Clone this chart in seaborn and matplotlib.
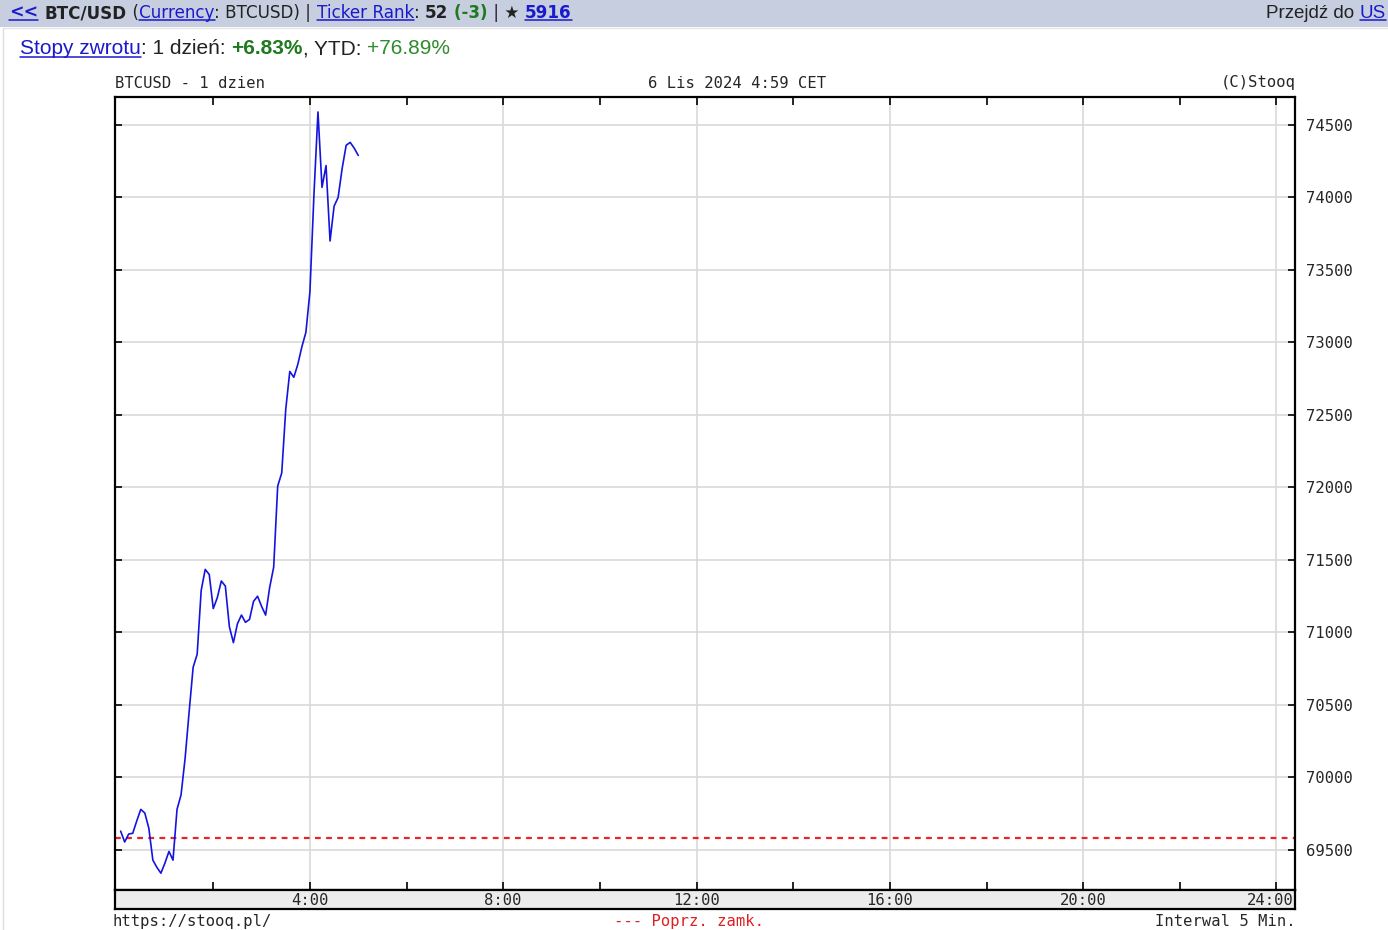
import numpy as np
import pandas as pd
import matplotlib.pyplot as plt
from matplotlib.lines import Line2D
from matplotlib.patches import Rectangle
import seaborn as sns

# BTCUSD intraday, 5 min bars (minutes after midnight)
minutes = np.arange(5, 301, 5)
prices = [69630, 69555, 69610, 69615, 69700, 69780, 69755, 69650, 69430, 69380,
          69340, 69410, 69490, 69430, 69780, 69880, 70130, 70450, 70760, 70850,
          71290, 71435, 71400, 71165, 71240, 71355, 71320, 71040, 70930, 71060,
          71120, 71070, 71090, 71215, 71250, 71180, 71120, 71310, 71450, 72010,
          72100, 72540, 72800, 72760, 72850, 72970, 73070, 73350, 74020, 74590,
          74070, 74220, 73700, 73940, 74000, 74200, 74360, 74380, 74340, 74290]
prev_close = 69580
y_ticks = [69500, 70000, 70500, 71000, 71500, 72000, 72500, 73000, 73500, 74000, 74500]
x_labels = ["4:00", "8:00", "12:00", "16:00", "20:00", "24:00"]
x_label_pos = [240, 480, 720, 960, 1200, 1440]

df = pd.DataFrame({"min": minutes, "price": prices})

sns.set_style("white")
W, H = 1388, 930
fig = plt.figure(figsize=(W / 100, H / 100), dpi=100)
mono = "DejaVu Sans Mono"

# page header bar
fig.add_artist(Rectangle((0, 1 - 27 / H), 1, 27 / H, transform=fig.transFigure,
                         facecolor="#c6cee0", edgecolor="none"))
fig.add_artist(Line2D([3 / W, 3 / W], [0, 1 - 28 / H], transform=fig.transFigure,
                      color="#dddddd", lw=1))
fig.add_artist(Line2D([3 / W, 1], [1 - 28.5 / H, 1 - 28.5 / H], transform=fig.transFigure,
                      color="#e4e4e4", lw=1))

renderer = fig.canvas.get_renderer()


def run(x, y, parts, size, family):
    for s, color, weight, ul in parts:
        t = fig.text(x / W, 1 - y / H, s, color=color, fontsize=size, fontweight=weight,
                     family=family, va="center", ha="left")
        bb = t.get_window_extent(renderer)
        if ul:
            fig.add_artist(Line2D([bb.x0 / W, bb.x1 / W], [(bb.y0 + 1.5) / H] * 2,
                                  transform=fig.transFigure, color=color, lw=1.1))
        x = bb.x1


link = "#1a1acc"
green = "#1e7a1e"
hdr = "DejaVu Sans"
run(9, 13, [("<<", link, "bold", True)], 12.5, hdr)
run(45, 13, [("BTC/USD", "#222222", "bold", False),
             (" (", "#222222", "normal", False),
             ("Currency", link, "normal", True),
             (": BTCUSD) | ", "#222222", "normal", False),
             ("Ticker Rank", link, "normal", True),
             (": ", "#222222", "normal", False),
             ("52", "#222222", "bold", False),
             (" (-3)", green, "bold", False),
             (" | \u2605 ", "#222222", "normal", False),
             ("5916", link, "bold", True)], 12.1, hdr)
t = fig.text(1386 / W, 1 - 13 / H, "US", color=link, fontsize=13.5,
             family="Liberation Sans", va="center", ha="right")
bb = t.get_window_extent(renderer)
fig.add_artist(Line2D([bb.x0 / W, bb.x1 / W], [(bb.y0 + 1.5) / H] * 2,
                      transform=fig.transFigure, color=link, lw=1.1))
fig.text(bb.x0 / W, 1 - 13 / H, "Przejd\u017a do ", color="#222222", fontsize=13.5,
         family="Liberation Sans", va="center", ha="right")

run(20, 49, [("Stopy zwrotu", link, "normal", True),
             (": 1 dzie\u0144: ", "#222222", "normal", False),
             ("+6.83%", green, "bold", False),
             (", YTD: ", "#222222", "normal", False),
             ("+76.89%", "#2e8b2e", "normal", False)], 15, "Liberation Sans")

# chart captions
cap = 11.2
fig.text(115 / W, 1 - 83 / H, "BTCUSD - 1 dzien", family=mono, fontsize=cap, va="center")
fig.text(737 / W, 1 - 83 / H, "6 Lis 2024 4:59 CET", family=mono, fontsize=cap,
         va="center", ha="center")
fig.text(1296 / W, 1 - 83 / H, "(C)Stooq", family=mono, fontsize=cap, va="center", ha="right")
fig.text(113 / W, 1 - 921 / H, "https://stooq.pl/", family=mono, fontsize=cap, va="center")
fig.text(689 / W, 1 - 921 / H, "--- Poprz. zamk.", family=mono, fontsize=cap,
         va="center", ha="center", color="#e02020")
fig.text(1296 / W, 1 - 921 / H, "Interwal 5 Min.", family=mono, fontsize=cap,
         va="center", ha="right")

# main plot
ax = fig.add_axes([115 / W, 1 - 890 / H, 1180 / W, 793 / H])
ax.set_xlim(-2, 1463)
ax.set_ylim(69224, 74693)
for xv in x_label_pos:
    ax.axvline(xv, color="#d9d9d9", lw=1.2, zorder=0)
for yv in y_ticks:
    ax.axhline(yv, color="#d9d9d9", lw=1.2, zorder=0)
ax.axhline(prev_close, color="#e82525", lw=1.6, ls=(0, (2.6, 2.4)), zorder=1)
sns.lineplot(data=df, x="min", y="price", ax=ax, color="#1414e0", lw=1.2, zorder=2)

ax.set_xticks(np.arange(120, 1441, 120))
ax.set_xticklabels([])
ax.set_yticks(y_ticks)
ax.set_yticklabels([str(v) for v in y_ticks], family=mono, fontsize=cap)
ax.yaxis.tick_right()
ax.tick_params(axis="x", direction="in", length=6, width=1.2, top=True, bottom=True,
               color="black")
ax.tick_params(axis="y", direction="in", length=5, width=1.2, left=True, right=True,
               labelleft=False, labelright=True, pad=8, color="black")
ax.set_xlabel("")
ax.set_ylabel("")
for s in ax.spines.values():
    s.set_visible(True)
    s.set_color("black")
    s.set_linewidth(1.6)

# time label strip
sx = fig.add_axes([115 / W, 1 - 909 / H, 1180 / W, 19 / H], facecolor="#ececec")
sx.set_xlim(-2, 1463)
sx.set_ylim(0, 1)
sx.set_xticks([])
sx.set_yticks([])
for xv, lab in zip(x_label_pos[:-1], x_labels[:-1]):
    sx.text(xv, 0.45, lab, family=mono, fontsize=cap, ha="center", va="center")
sx.text(1461, 0.45, x_labels[-1], family=mono, fontsize=cap, ha="right", va="center")
for s in sx.spines.values():
    s.set_visible(True)
    s.set_color("black")
    s.set_linewidth(1.6)

fig.savefig("out.png", dpi=100)
